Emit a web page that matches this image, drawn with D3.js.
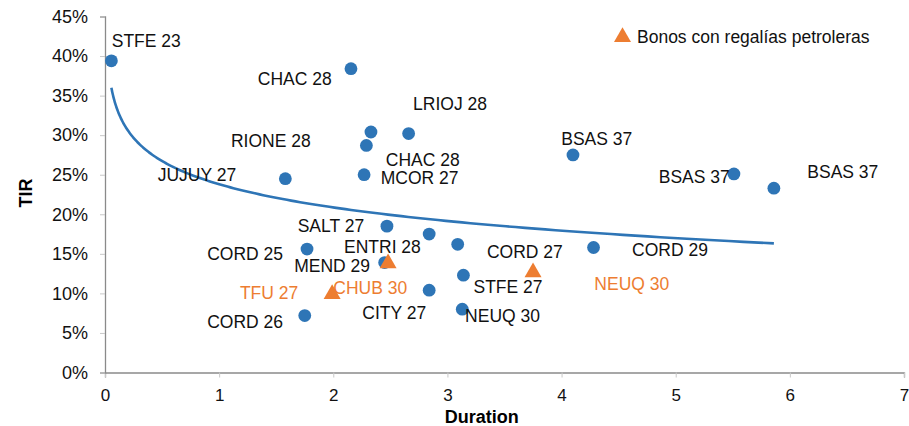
<!DOCTYPE html>
<html>
<head>
<meta charset="utf-8">
<script src="https://cdn.jsdelivr.net/npm/d3@7"></script>
<style>
  body { margin: 0; background: #fff; }
  text { font-family: "Liberation Sans", Arial, sans-serif; }
</style>
</head>
<body>
<div id="chart"></div>
<script>
// provincial bonds: duration vs TIR (circles)
var bondDuration = [0.056, 2.155, 2.33, 2.66, 2.29, 4.10, 1.58, 2.27, 5.51, 5.86,
                    2.47, 2.84, 3.09, 1.77, 4.28, 2.45, 3.14, 2.84, 3.13, 1.75];
var bondTir = [0.394, 0.384, 0.304, 0.302, 0.287, 0.275, 0.245, 0.250, 0.251, 0.233,
               0.185, 0.175, 0.162, 0.156, 0.158, 0.139, 0.123, 0.104, 0.080, 0.072];

// bonds backed by oil royalties (triangles)
var royaltyDuration = [1.99, 2.48, 3.75];
var royaltyTir = [0.101, 0.140, 0.1285];

// point labels, anchored at their left baseline (data units)
var labelText = ["STFE 23", "CHAC 28", "RIONE 28", "JUJUY 27", "LRIOJ 28", "CHAC 28", "MCOR 27",
                 "SALT 27", "ENTRI 28", "CORD 25", "MEND 29", "TFU 27", "CHUB 30", "CITY 27",
                 "CORD 26", "STFE 27", "NEUQ 30", "CORD 27", "CORD 29", "NEUQ 30",
                 "BSAS 37", "BSAS 37", "BSAS 37"];
var labelDuration = [0.059, 1.339, 1.103, 0.462, 2.699, 2.460, 2.416,
                     1.688, 2.094, 0.895, 1.658, 1.182, 2.000, 2.254,
                     0.895, 3.228, 3.155, 3.346, 4.618, 4.287,
                     3.997, 4.851, 6.153];
var labelTir = [0.412, 0.364, 0.2846, 0.2418, 0.3314, 0.2605, 0.2377,
                0.1782, 0.1509, 0.1424, 0.1276, 0.0930, 0.0990, 0.0673,
                0.0559, 0.1003, 0.0633, 0.1449, 0.1475, 0.1044,
                0.2871, 0.2395, 0.2453];
var labelRoyalty = [false, false, false, false, false, false, false,
                    false, false, false, false, true, true, false,
                    false, false, false, false, false, true,
                    false, false, false];

var xTicks = [0, 1, 2, 3, 4, 5, 6, 7];
var yTicks = [0, 0.05, 0.10, 0.15, 0.20, 0.25, 0.30, 0.35, 0.40, 0.45];
var legendLabel = "Bonos con regalías petroleras";

var blue = "#2e75b6", orange = "#ed7d31", axisGray = "#8a8a8a";

var margin = {top: 16.5, right: 5, bottom: 53.5, left: 105},
    W = 909, H = 426,
    width = W - margin.left - margin.right,
    height = H - margin.top - margin.bottom;

var svg = d3.select("#chart").append("svg")
    .attr("width", W)
    .attr("height", H);

var g = svg.append("g")
    .attr("transform", "translate(" + margin.left + "," + margin.top + ")");

var x = d3.scaleLinear().domain([0, 7]).range([0, width]);
var y = d3.scaleLinear().domain([0, 0.45]).range([height, 0]);

// axes
var xAxis = g.append("g")
    .attr("transform", "translate(0," + height + ")")
    .call(d3.axisBottom(x).tickValues(xTicks).tickFormat(d3.format("d")).tickSize(5).tickPadding(11));
var yAxis = g.append("g")
    .call(d3.axisLeft(y).tickValues(yTicks).tickFormat(d3.format(".0%")).tickSize(5).tickPadding(12));

[xAxis, yAxis].forEach(function(a) {
    a.select(".domain").attr("stroke", axisGray).attr("stroke-width", 1.3);
    a.selectAll(".tick line").attr("stroke", "#c8c8c8").attr("stroke-width", 1);
    a.selectAll("text").attr("fill", "#111").style("font-family", "Liberation Sans, Arial, sans-serif");
});
xAxis.selectAll("text").style("font-size", "17px");
yAxis.selectAll("text").style("font-size", "18px");

// axis titles
g.append("text")
    .attr("x", x(3.3))
    .attr("y", height + 50.5)
    .attr("text-anchor", "middle")
    .style("font-size", "18px")
    .style("font-weight", "bold")
    .text("Duration");

g.append("text")
    .attr("transform", "translate(" + (32 - margin.left) + "," + (193 - margin.top) + ")rotate(-90)")
    .attr("text-anchor", "middle")
    .style("font-size", "18px")
    .style("font-weight", "bold")
    .text("TIR");

// logarithmic trend line fitted to all bonds: TIR = a + b ln(duration)
var allDur = bondDuration.concat(royaltyDuration);
var allTir = bondTir.concat(royaltyTir);
var lnD = allDur.map(Math.log);
var mL = d3.mean(lnD), mT = d3.mean(allTir);
var sxy = d3.sum(lnD, function(l, i) { return (l - mL) * (allTir[i] - mT); });
var sxx = d3.sum(lnD, function(l) { return (l - mL) * (l - mL); });
var b = sxy / sxx, a = mT - b * mL;

var dMin = d3.min(allDur), dMax = d3.max(allDur);
var trend = d3.range(0, 201).map(function(i) {
    var d = dMin * Math.pow(dMax / dMin, i / 200);
    return [d, a + b * Math.log(d)];
});
g.append("path")
    .datum(trend)
    .attr("fill", "none")
    .attr("stroke", blue)
    .attr("stroke-width", 2.6)
    .attr("d", d3.line()
        .x(function(d) { return x(d[0]); })
        .y(function(d) { return y(d[1]); }));

// circles
g.selectAll(".bond")
    .data(bondDuration)
    .enter().append("circle")
    .attr("class", "bond")
    .attr("cx", function(d) { return x(d); })
    .attr("cy", function(d, i) { return y(bondTir[i]); })
    .attr("r", 6.4)
    .attr("fill", blue);

// triangles
var tri = d3.symbol().type(d3.symbolTriangle).size(125);
g.selectAll(".royalty")
    .data(royaltyDuration)
    .enter().append("path")
    .attr("class", "royalty")
    .attr("d", tri)
    .attr("transform", function(d, i) { return "translate(" + x(d) + "," + (y(royaltyTir[i]) + 1.5) + ")"; })
    .attr("fill", orange);

// labels
g.selectAll(".lbl")
    .data(labelText)
    .enter().append("text")
    .attr("class", "lbl")
    .attr("x", function(d, i) { return x(labelDuration[i]); })
    .attr("y", function(d, i) { return y(labelTir[i]); })
    .attr("fill", function(d, i) { return labelRoyalty[i] ? orange : "#111"; })
    .style("font-size", "17.5px")
    .text(function(d) { return d; });

// legend
var legend = svg.append("g").attr("transform", "translate(622.5,37)");
legend.append("path")
    .attr("d", tri)
    .attr("fill", orange);
legend.append("text")
    .attr("x", 14.5)
    .attr("y", 5.7)
    .attr("fill", "#111")
    .style("font-size", "17.5px")
    .text(legendLabel);
</script>
</body>
</html>
